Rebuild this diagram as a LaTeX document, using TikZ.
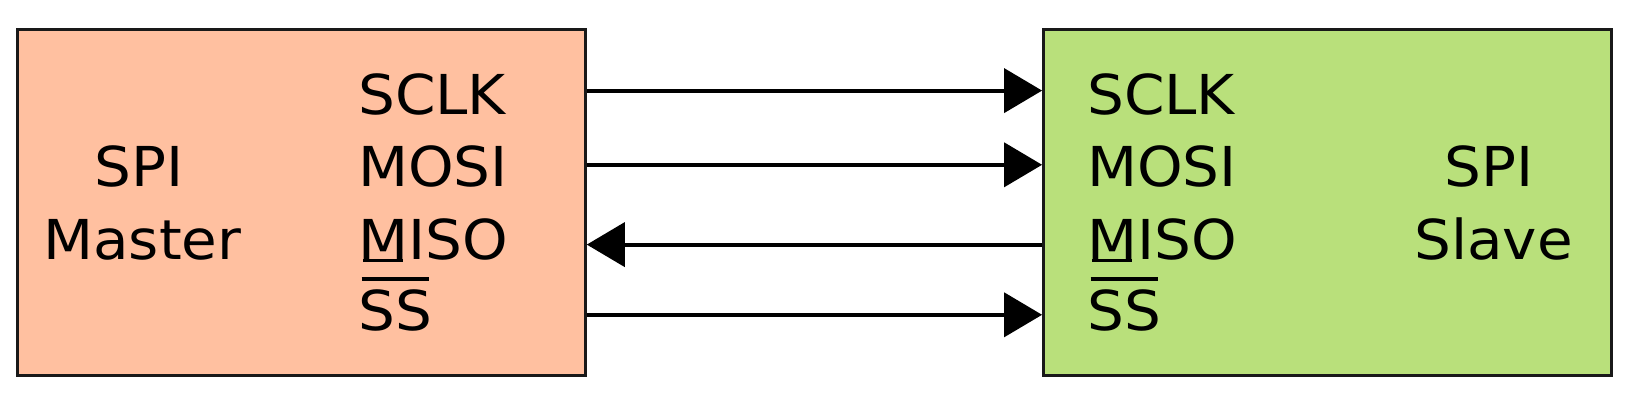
\documentclass[tikz,border=0pt]{standalone}
\usepackage{fontspec}
\setmainfont{DejaVu Sans}[FakeStretch=1.055]
\usepackage{tikz}
\usetikzlibrary{arrows.meta}
\usetikzlibrary{positioning}

\definecolor{masterfill}{RGB}{255,192,160}
\definecolor{slavefill}{RGB}{185,224,123}

\newcommand{\ovbar}[1]{\setbox0=\hbox{#1}\rlap{\hspace{0.06em}\rule[0.9em]{\dimexpr\wd0-0.12em\relax}{0.07em}}\box0}
\newcommand{\unbar}[1]{\setbox0=\hbox{#1}\rlap{\hspace{0.09em}\rule[-0.05em]{\dimexpr\wd0-0.18em\relax}{0.05em}}\box0}

\tikzset{
  chip/.style={rectangle, draw=black!90, line width=3pt, inner sep=0pt,
    minimum width=567.6pt, minimum height=345.8pt},
  pin/.style={anchor=base west, inner sep=0pt},
  signal/.style={line width=4pt, -{Triangle[length=38pt,width=44pt]}}
}

\begin{document}
\begin{tikzpicture}[x=1pt, y=-1pt, font=\fontsize{55}{64}\selectfont]
  \useasboundingbox (0,0) rectangle (1633,413);
  \node [chip, fill=masterfill] (master) at (301.5,202.1) {};
  \node [chip, fill=slavefill, right=455.3pt of master] (slave) {};

  % master side
  \node [pin] (m-spi) at (94,186.7) {SPI};
  \node [pin] (m-name) at (43,259.3) {Master};
  \node [pin] (m-sclk) at (358,114.8) {SCLK};
  \node [pin] (m-mosi) at (358,186.7) {MOSI};
  \node [pin] (m-miso) at (358,259.3) {\unbar{M}ISO};
  \node [pin] (m-ss) at (358,330.5) {\ovbar{SS}};

  % slave side
  \node [pin] (s-spi) at (1444,186.7) {SPI};
  \node [pin] (s-name) at (1414,259.3) {Slave};
  \node [pin] (s-sclk) at (1087,114.8) {SCLK};
  \node [pin] (s-mosi) at (1087,186.7) {MOSI};
  \node [pin] (s-miso) at (1087,259.3) {\unbar{M}ISO};
  \node [pin] (s-ss) at (1087,330.5) {\ovbar{SS}};

  \coordinate (w1) at (0,90.6);
  \coordinate (w2) at (0,164.8);
  \coordinate (w3) at (0,244.6);
  \coordinate (w4) at (0,314.8);

  \draw [signal] (master.east |- w1) -- (slave.west |- w1);
  \draw [signal] (master.east |- w2) -- (slave.west |- w2);
  \draw [signal] (slave.west |- w3) -- (master.east |- w3);
  \draw [signal] (master.east |- w4) -- (slave.west |- w4);
\end{tikzpicture}
\end{document}
